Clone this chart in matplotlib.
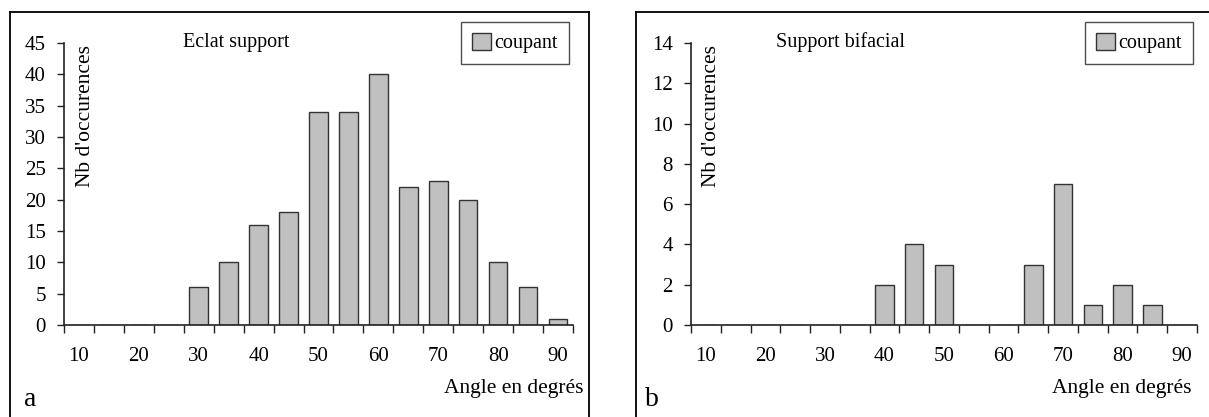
import numpy as np
import matplotlib
matplotlib.use("Agg")
import matplotlib.pyplot as plt
from matplotlib.lines import Line2D

# angle classes (degrees) and counts of "coupant" edges
angles = [10, 15, 20, 25, 30, 35, 40, 45, 50, 55, 60, 65, 70, 75, 80, 85, 90]
eclat_support = [0, 0, 0, 0, 6, 10, 16, 18, 34, 34, 40, 22, 23, 20, 10, 6, 1]
support_bifacial = [0, 0, 0, 0, 0, 0, 2, 4, 3, 0, 0, 3, 7, 1, 2, 1, 0]

panel_titles = ["Eclat support", "Support bifacial"]
panel_letters = ["a", "b"]
y_tops = [45, 14]
y_steps = [5, 2]

plt.rcParams['font.family'] = ['Liberation Serif', 'DejaVu Serif']

W, H = 1209, 417
fig = plt.figure(figsize=(W / 100, H / 100), dpi=100)


def fx(px):
    return px / W


def fy(py):
    return 1 - py / H


def draw_panel(left_px, right_px, values, title, letter, ytop, ystep,
               title_x, frame, label_x, letter_x, right_text_x, legend_right):
    ax = fig.add_axes([fx(left_px), fy(325), fx(right_px - left_px), fy(43) - fy(325)])
    x = np.arange(len(angles))
    ax.bar(x, values, width=0.62, color="#c0c0c0", edgecolor="#333333",
           linewidth=1.0, label="coupant", zorder=2)

    ax.set_xlim(-0.5, len(angles) - 0.5)
    ax.set_ylim(0, ytop)

    for s in ["top", "right"]:
        ax.spines[s].set_visible(False)
    for s in ["left", "bottom"]:
        ax.spines[s].set_color("#222222")
        ax.spines[s].set_linewidth(1.2)
        ax.spines[s].set_zorder(3)

    ax.set_yticks(np.arange(0, ytop + 1, ystep))
    ax.tick_params(axis="y", direction="out", length=5, width=1, pad=8,
                   labelsize=15, color="#222222")

    # labels every other class, tick marks at class boundaries
    ax.set_xticks(x[::2])
    ax.set_xticklabels([str(a) for a in angles[::2]])
    ax.set_xticks(np.arange(-0.5, len(angles)), minor=True)
    ax.tick_params(axis="x", which="major", length=0, pad=16, labelsize=15)
    ax.tick_params(axis="x", which="minor", direction="out", length=6, width=1,
                   color="#222222")

    fig.text(fx(title_x), fy(42), title, ha="center", va="center", fontsize=14.5)
    fig.text(fx(label_x), fy(45), "Nb d'occurences", rotation=90,
             ha="center", va="top", fontsize=15.5)
    fig.text(fx(right_text_x), fy(388), "Angle en degrés",
             ha="right", va="center", fontsize=15.5)
    fig.text(fx(letter_x), fy(400), letter, ha="center", va="center", fontsize=20)

    leg = ax.legend(loc="upper right", bbox_to_anchor=(fx(legend_right), fy(22)),
                    bbox_transform=fig.transFigure, fancybox=False, frameon=True,
                    edgecolor="#222222", handlelength=0.9, handleheight=0.9,
                    handletextpad=0.2, borderpad=0.55, borderaxespad=0,
                    fontsize=14.5)
    leg.get_frame().set_linewidth(1.0)

    # outer frame around the panel (open at the bottom)
    x0, x1 = frame
    lw = 1.3
    fig.add_artist(Line2D([fx(x0), fx(x0)], [0, fy(12)], color="black", lw=lw))
    fig.add_artist(Line2D([fx(x0), fx(x1)], [fy(12), fy(12)], color="black", lw=lw))
    if x1 < W:
        fig.add_artist(Line2D([fx(x1), fx(x1)], [0, fy(12)], color="black", lw=lw))
    return ax


draw_panel(64, 573, eclat_support, panel_titles[0], panel_letters[0], y_tops[0], y_steps[0],
           title_x=236, frame=(10, 589), label_x=85, letter_x=30, right_text_x=584,
           legend_right=569)
draw_panel(691, 1197, support_bifacial, panel_titles[1], panel_letters[1], y_tops[1], y_steps[1],
           title_x=840, frame=(636, W + 5), label_x=712, letter_x=652, right_text_x=1192,
           legend_right=1193)

fig.savefig("out.png", dpi=100)
